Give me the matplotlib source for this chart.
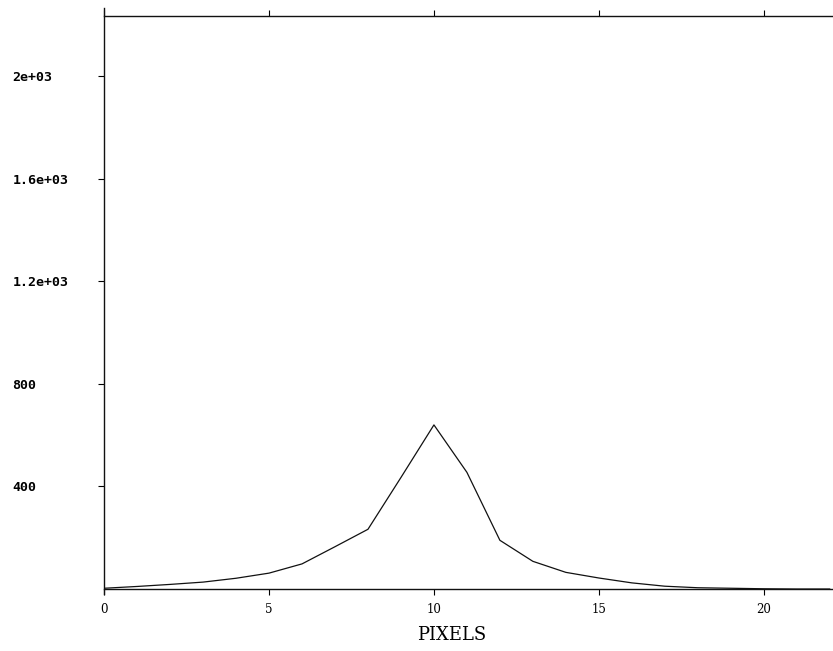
import numpy as np
import matplotlib
matplotlib.use("Agg")
import matplotlib.pyplot as plt

# values
pixels = np.arange(0, 23)
counts = [3, 10, 18, 27, 42, 62, 98, 165, 233, 435, 640, 455, 190,
          108, 65, 43, 24, 11, 5, 3, 1, 0, 0]

xticks = [0, 5, 10, 15, 20]
yticks = [400, 800, 1200, 1600, 2000]
ylabels = ["400", "800", "1.2e+03", "1.6e+03", "2e+03"]

fig = plt.figure(figsize=(8.33, 6.51), dpi=100)
ax = fig.add_axes([0.125, 0.0952, 0.875, 0.880])

ax.plot(pixels, counts, color="#111111", lw=0.9)

ax.set_xlim(0, 22.1)
ax.set_ylim(0, 2234)

ax.spines["right"].set_visible(False)
for s in ("left", "bottom", "top"):
    ax.spines[s].set_linewidth(1.0)
    ax.spines[s].set_color("#111111")
# the left axis line runs a little past the top line
ax.spines["left"].set_bounds(-20, 2265)

ax.set_xticks(xticks)
ax.set_xticklabels([str(v) for v in xticks], family="DejaVu Serif", fontsize=8.5)
ax.tick_params(axis="x", direction="out", length=4, width=0.8, pad=6,
               top=True, labeltop=False)

ax.set_yticks(yticks)
ax.set_yticklabels(ylabels, family="DejaVu Sans Mono", fontsize=9.5,
                   fontweight="bold")
ax.tick_params(axis="y", direction="out", length=4, width=0.8, pad=62)
for lab in ax.get_yticklabels():
    lab.set_horizontalalignment("left")

ax.set_xlabel("PIXELS", family="DejaVu Serif", fontsize=13)
ax.xaxis.set_label_coords(0.477, -0.065)

fig.savefig("out.png", dpi=100)
